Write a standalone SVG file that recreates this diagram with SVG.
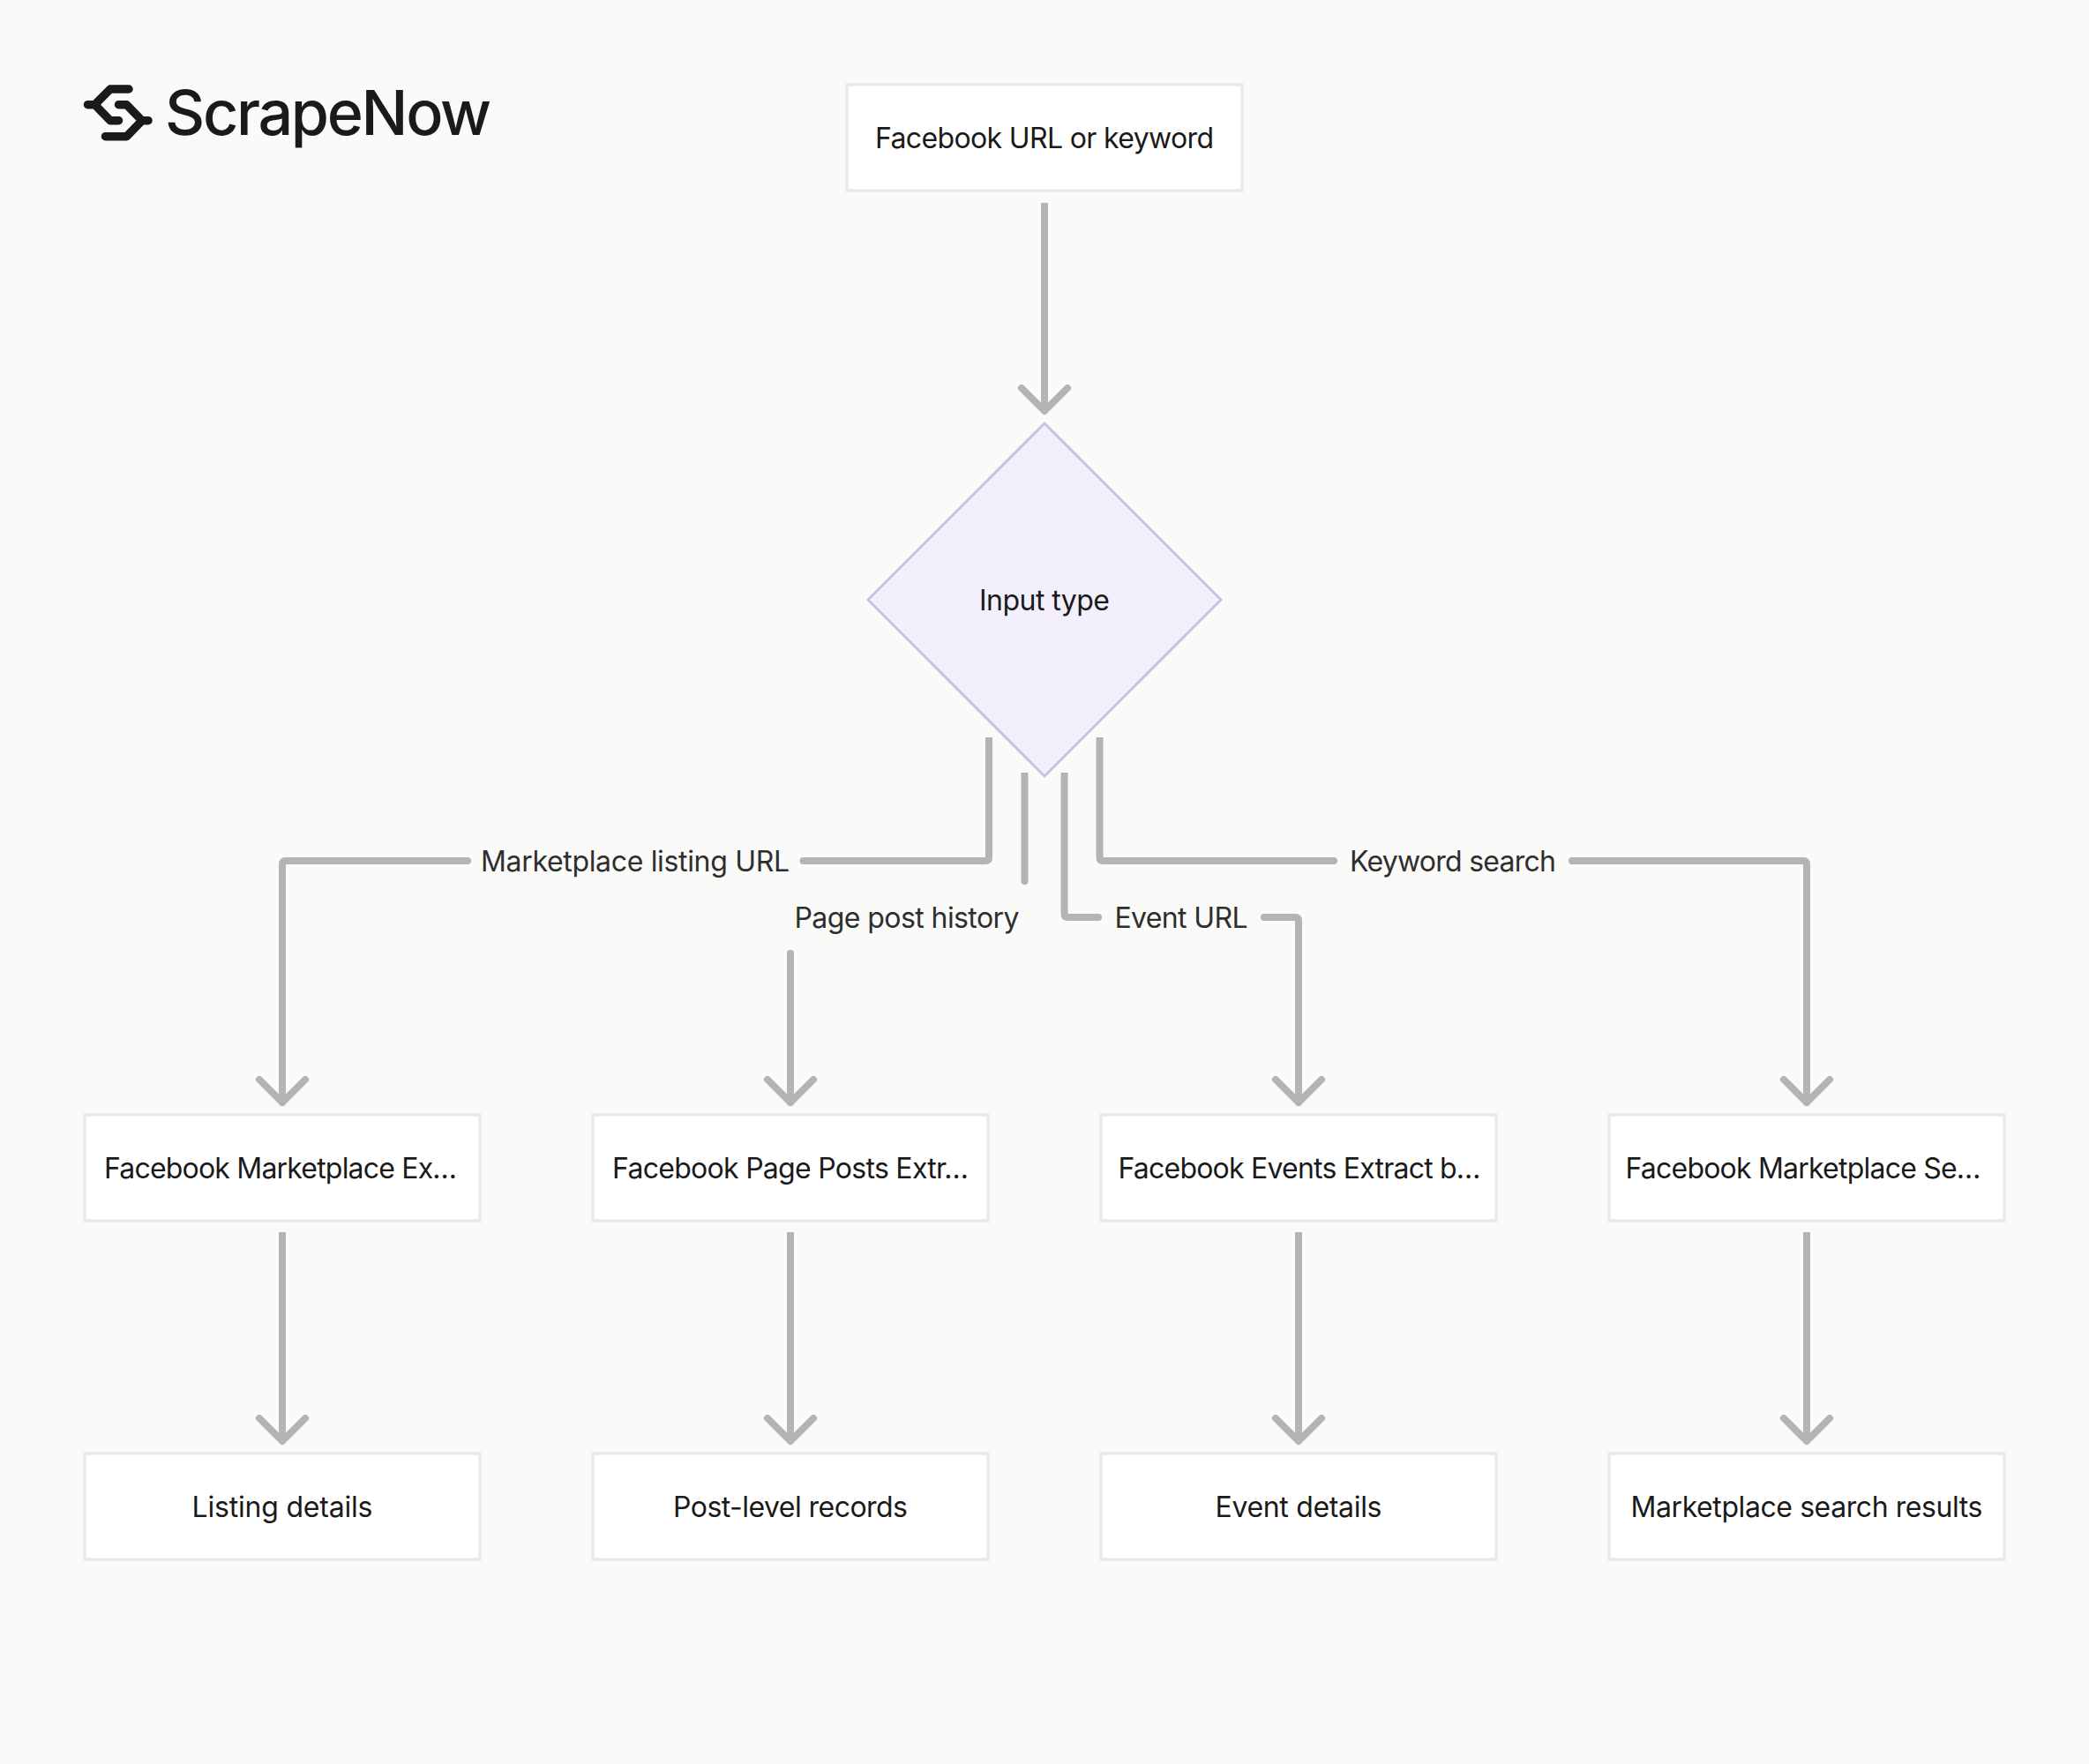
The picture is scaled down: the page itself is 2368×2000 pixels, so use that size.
<svg xmlns="http://www.w3.org/2000/svg" width="2368" height="2000" viewBox="0 0 2368 2000">
<defs>
<style>
.box{fill:#fff;stroke:#e8e8e6;stroke-width:3}
.t{font-family:"Inter","Liberation Sans",sans-serif;font-size:32px;fill:#1a1a1a;text-anchor:middle}
.l{font-family:"Inter","Liberation Sans",sans-serif;font-size:32px;fill:#2e2e2e;text-anchor:middle}
.c{fill:none;stroke:#b4b4b2;stroke-width:8;stroke-linejoin:round}
.logo{fill:none;stroke:#1a1a1a;stroke-width:9.500;stroke-linejoin:round;stroke-linecap:round}
</style>
</defs>
<rect width="2368" height="2000" fill="#fafaf8"/>
<g id="logo">
<path class="logo" d="M146 101H125L107.500 118.700H99.500M107.500 118.700L125 136.700H134.500M134.500 118.700H143.500L161 136.700H168M161 136.700L143.500 154.700H119.500"/>
<text x="187" y="153" font-family="Inter,'Liberation Sans',sans-serif" font-size="70" font-weight="500" fill="#1a1a1a" textLength="370">ScrapeNow</text>
</g>
<g id="connectors">
<path class="c" d="M1184 230V466"/>
<path class="c" d="M1121 836V972Q1121 976 1117 976H910.500" /><circle cx="910.500" cy="976" r="4" fill="#b4b4b2"/>
<path class="c" stroke-linecap="round" d="M530 976H324Q320 976 320 980V1250"/>
<path class="c" d="M1161.500 876V999"/><circle cx="1161.500" cy="999" r="4" fill="#b4b4b2"/>
<path class="c" stroke-linecap="round" d="M896 1081V1250"/>
<path class="c" d="M1206.500 876V1036Q1206.500 1040 1210.500 1040H1245"/><circle cx="1245" cy="1040" r="4" fill="#b4b4b2"/>
<path class="c" stroke-linecap="round" d="M1433 1040H1468Q1472 1040 1472 1044V1250"/>
<path class="c" d="M1246.500 836V972Q1246.500 976 1250.500 976H1512"/><circle cx="1512" cy="976" r="4" fill="#b4b4b2"/>
<path class="c" stroke-linecap="round" d="M1782 976H2044Q2048 976 2048 980V1250"/>
<path class="c" d="M320 1397V1634M896 1397V1634M1472 1397V1634M2048 1397V1634"/>
<g stroke-linecap="round">
<path class="c" d="M1158 440L1184 466L1210 440"/>
<path class="c" d="M294 1224L320 1250L346 1224"/>
<path class="c" d="M870 1224L896 1250L922 1224"/>
<path class="c" d="M1446 1224L1472 1250L1498 1224"/>
<path class="c" d="M2022 1224L2048 1250L2074 1224"/>
<path class="c" d="M294 1608L320 1634L346 1608"/>
<path class="c" d="M870 1608L896 1634L922 1608"/>
<path class="c" d="M1446 1608L1472 1634L1498 1608"/>
<path class="c" d="M2022 1608L2048 1634L2074 1608"/>
</g>
<text class="l" x="720" y="988" textLength="350">Marketplace listing URL</text>
<text class="l" x="1028" y="1052" textLength="255">Page post history</text>
<text class="l" x="1339" y="1052" textLength="151">Event URL</text>
<text class="l" x="1647" y="988" textLength="234">Keyword search</text>
</g>
<g id="n-input"><rect class="box" x="960" y="96" width="448" height="120"/><text class="t" x="1184" y="168" textLength="384">Facebook URL or keyword</text></g>
<g id="n-type"><path d="M1184 480L1384 680L1184 880L984 680Z" fill="#f3effd" stroke="#c8bfe3" stroke-width="3" stroke-linejoin="round"/><text class="t" x="1184" y="692" textLength="148">Input type</text></g>
<g id="n-a1"><rect class="box" x="96" y="1264" width="448" height="120"/><text class="t" x="318" y="1336" textLength="400">Facebook Marketplace Ex…</text></g>
<g id="n-a2"><rect class="box" x="672" y="1264" width="448" height="120"/><text class="t" x="896" y="1336" textLength="404">Facebook Page Posts Extr…</text></g>
<g id="n-a3"><rect class="box" x="1248" y="1264" width="448" height="120"/><text class="t" x="1473" y="1336" textLength="411">Facebook Events Extract b…</text></g>
<g id="n-a4"><rect class="box" x="1824" y="1264" width="448" height="120"/><text class="t" x="2044" y="1336" textLength="403">Facebook Marketplace Se…</text></g>
<g id="n-r1"><rect class="box" x="96" y="1648" width="448" height="120"/><text class="t" x="320" y="1720" textLength="205">Listing details</text></g>
<g id="n-r2"><rect class="box" x="672" y="1648" width="448" height="120"/><text class="t" x="896" y="1720" textLength="266">Post-level records</text></g>
<g id="n-r3"><rect class="box" x="1248" y="1648" width="448" height="120"/><text class="t" x="1472" y="1720" textLength="189">Event details</text></g>
<g id="n-r4"><rect class="box" x="1824" y="1648" width="448" height="120"/><text class="t" x="2048" y="1720" textLength="399">Marketplace search results</text></g>
</svg>
